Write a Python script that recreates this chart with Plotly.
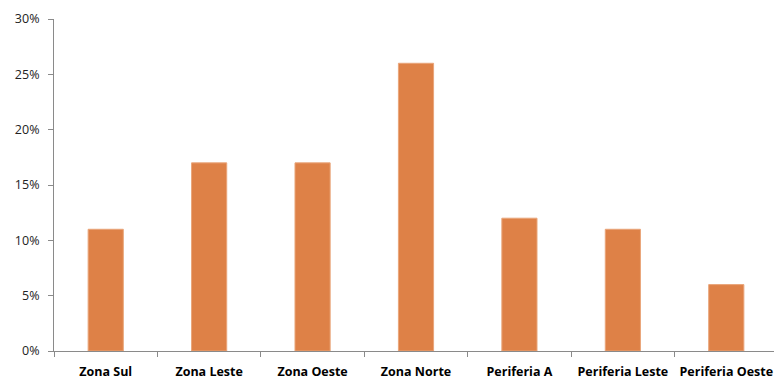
import plotly.graph_objects as go

categories = ["Zona Sul", "Zona Leste", "Zona Oeste", "Zona Norte", "Periferia A", "Periferia Leste", "Periferia Oeste"]
values = [0.11, 0.17, 0.17, 0.26, 0.12, 0.11, 0.06]
y_ticks = [0, 0.05, 0.10, 0.15, 0.20, 0.25, 0.30]
y_tick_labels = ["0%", "5%", "10%", "15%", "20%", "25%", "30%"]

fig = go.Figure(go.Bar(
    x=categories, y=values,
    marker=dict(color="#DE8147", line=dict(color="#E9A57A", width=1)),
    width=0.34,
))

# page body has an 8px margin: figure sized to fit the 782x383 window
fig.update_layout(
    width=774, height=375,
    margin=dict(l=46, r=4, t=11, b=32),
    paper_bgcolor="white", plot_bgcolor="white",
    showlegend=False,
    font=dict(family="Open Sans, Liberation Sans, sans-serif", color="#111", size=12),
)
fig.update_xaxes(
    range=[-0.5, 6.5], automargin=False,
    showline=True, linecolor="#8a8a8a", linewidth=1,
    ticks="outside", tickson="boundaries", ticklen=5, tickcolor="#8a8a8a",
    showgrid=False, tickangle=0, ticklabelstandoff=9,
    tickfont=dict(size=12.5, color="#000", weight="bold"),
)
fig.update_yaxes(
    range=[0, 0.30], automargin=False,
    tickvals=y_ticks, ticktext=y_tick_labels,
    showline=True, linecolor="#8a8a8a", linewidth=1,
    ticks="outside", ticklen=5, tickcolor="#8a8a8a",
    showgrid=False, zeroline=False, ticklabelstandoff=6,
    tickfont=dict(size=12.5, color="#222"),
)

fig.write_html("out.html")
